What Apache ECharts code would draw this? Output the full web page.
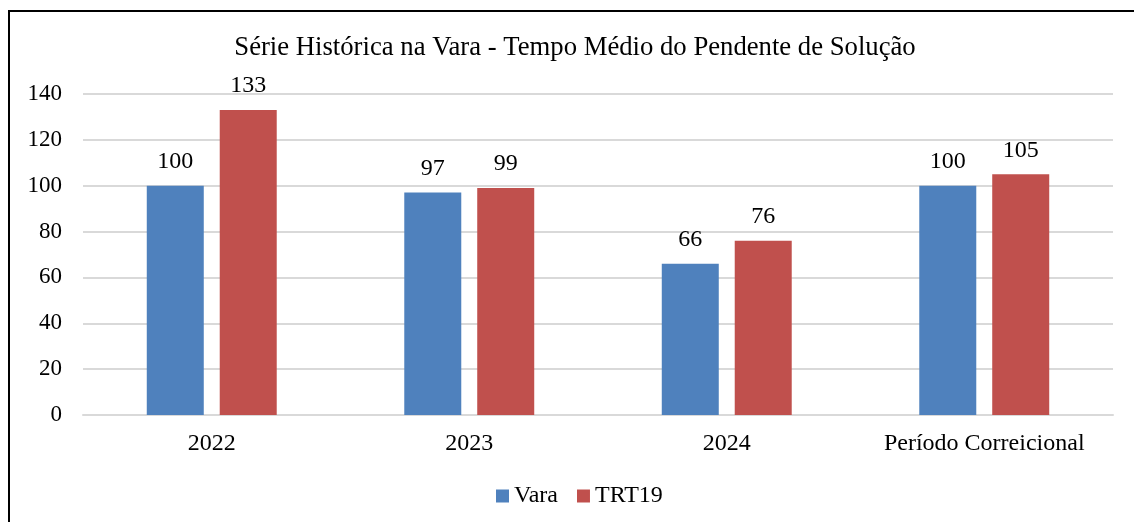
<!DOCTYPE html>
<html>
<head>
<meta charset="utf-8">
<script src="https://cdn.jsdelivr.net/npm/echarts@6/dist/echarts.min.js"></script>
<style>html,body{margin:0;padding:0;background:#fff}#c{width:1134px;height:522px}</style>
</head>
<body>
<div id="c"></div>
<script>
var categories = ['2022', '2023', '2024', 'Período Correicional'];
var vara = [100, 97, 66, 100];
var trt19 = [133, 99, 76, 105];
var yTicks = {min: 0, max: 140, interval: 20};

var font = '"Liberation Serif", "Times New Roman", serif';
var chart = echarts.init(document.getElementById('c'));
chart.setOption({
  animation: false,
  textStyle: {fontFamily: font},
  title: {
    text: 'Série Histórica na Vara - Tempo Médio do Pendente de Solução',
    left: 575, top: 34, padding: 0, textAlign: 'center',
    textStyle: {fontFamily: font, fontSize: 26.7, fontWeight: 'normal', color: '#000'}
  },
  graphic: [{
    type: 'rect', shape: {x: 9, y: 11, width: 1200, height: 600},
    style: {fill: 'none', stroke: '#000', lineWidth: 2}, silent: true
  }],
  legend: {
    data: ['Vara', 'TRT19'], top: 484, left: 496, padding: 0,
    itemWidth: 13, itemHeight: 13, itemGap: 19, icon: 'rect',
    textStyle: {fontFamily: font, fontSize: 24, color: '#000'}
  },
  grid: {left: 83, right: 21, top: 94, bottom: 107, containLabel: false},
  xAxis: {
    type: 'category', data: categories,
    axisLine: {lineStyle: {color: '#d9d9d9', width: 2}},
    axisTick: {show: false},
    axisLabel: {interval: 0, fontFamily: font, fontSize: 24, color: '#000', margin: 17}
  },
  yAxis: {
    type: 'value', min: yTicks.min, max: yTicks.max, interval: yTicks.interval,
    axisLine: {show: false}, axisTick: {show: false},
    splitLine: {lineStyle: {color: '#d9d9d9', width: 2}},
    axisLabel: {fontFamily: font, fontSize: 23, color: '#000', margin: 21}
  },
  series: [
    {name: 'Vara', type: 'bar', data: vara, barWidth: 57, barGap: '28%',
     itemStyle: {color: '#4F81BD'},
     label: {show: true, position: 'top', distance: 12, fontFamily: font, fontSize: 24, color: '#000'}},
    {name: 'TRT19', type: 'bar', data: trt19, barWidth: 57,
     itemStyle: {color: '#C0504D'},
     label: {show: true, position: 'top', distance: 12, fontFamily: font, fontSize: 24, color: '#000'}}
  ]
});
</script>
</body>
</html>
